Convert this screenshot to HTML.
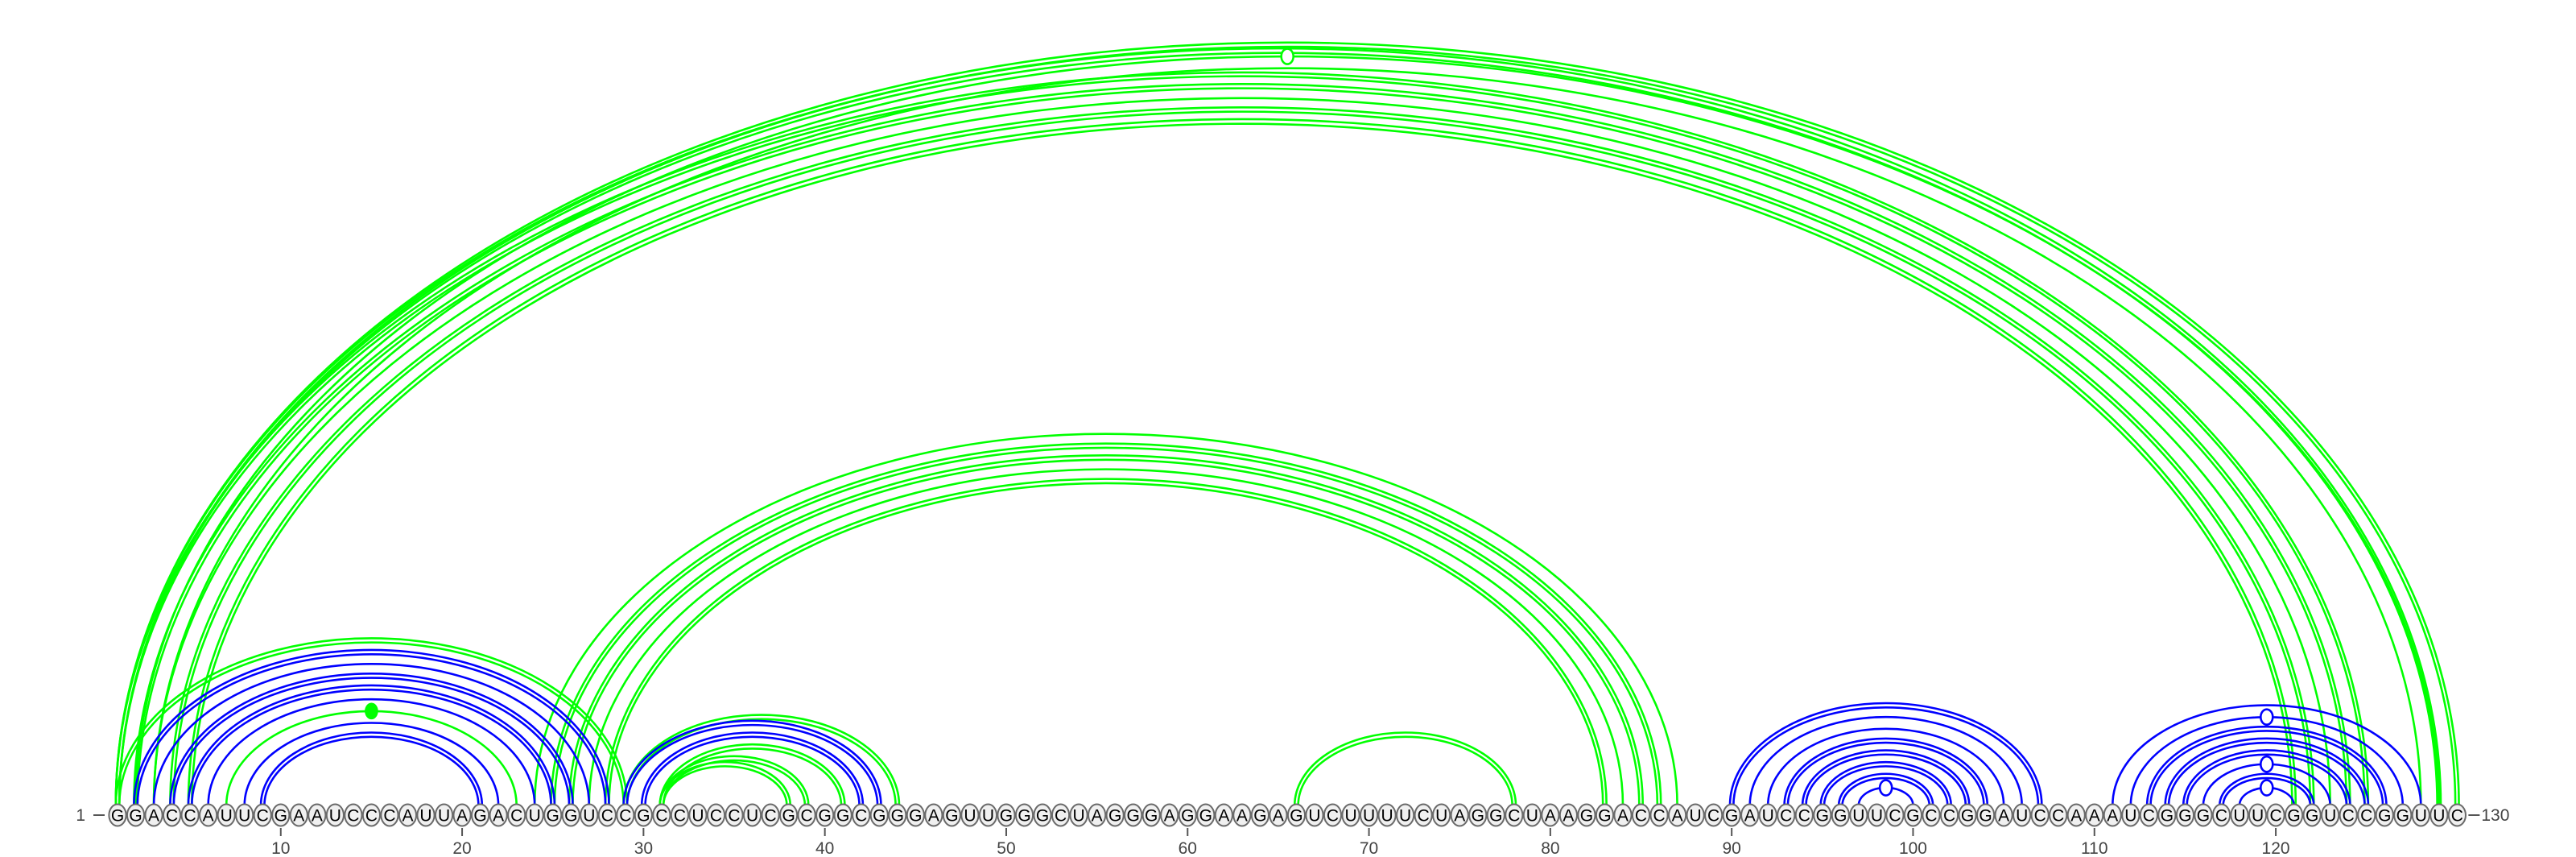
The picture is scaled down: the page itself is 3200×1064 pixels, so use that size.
<!DOCTYPE html>
<html><head><meta charset="utf-8"><style>
html,body{margin:0;padding:0;background:#fff;}
svg{display:block;}
</style></head><body>
<svg id="chart" width="3200" height="1064" viewBox="0 0 3200 1064" xmlns="http://www.w3.org/2000/svg">
<g id="arcs"></g>
<g id="bases"></g>
<g id="axis"></g>
</svg>
<script>
const sequence = "GGACCAUUCGAAUCCCAUUAGACUGGUCCGCCUCCUCGCGGCGGGAGUUGGGCUAGGGAGGAAGAGUCUUUUCUAGGCUAAGGACCAUCGAUCCGGUUCGCCGGAUCCAAAUCGGGCUUCGGUCCGGUUC";
const tickLabels = [10,20,30,40,50,60,70,80,90,100,110,120];
// blue structure pairs
const blueLeft  = [2,3,4,5,6,8,9, 29,30, 90,91,92,93,94,95,96,97, 111,112,113,114,115,116,117,118];
const blueRight = [28,27,26,25,24,22,21, 43,42, 107,106,105,104,103,102,101,100, 128,127,126,125,124,123,122,121];
const blueLines = [2,1,2,2,1,1,2, 2,2, 2,1,1,2,2,2,2,1, 1,1,2,2,2,1,2,1];
const blueMarker= [0,0,0,0,0,0,0, 0,0, 0,0,0,0,0,0,0,2, 0,2,0,0,0,2,0,2];
// green structure pairs
const greenLeft  = [1,7, 29,31,31,31, 24,25,26,27,28, 66, 1,1,2,3,1,2,3,4,5];
const greenRight = [29,23, 44,41,39,38, 87,86,85,84,83, 78, 130,129,129,128,125,124,123,122,121];
const greenLines = [2,1, 2,2,2,2, 1,2,2,1,2, 2, 2,2,1,1,2,2,1,2,2];
const greenMarker= [0,1, 0,0,0,0, 0,0,0,0,0, 0,0,0,2,0,0,0,0,0,0];

const NS="http://www.w3.org/2000/svg";
const X0=146, DX=22.53, BASEY=1012, ARCY=1000, RATIO=0.65;
function xPos(i){return X0+(i-1)*DX;}
function mk(tag,attrs,parent){const e=document.createElementNS(NS,tag);for(const k in attrs)e.setAttribute(k,attrs[k]);parent.appendChild(e);return e;}
const arcsG=document.getElementById('arcs');
function drawArcs(L,R,N,M,color,name){
  for(let k=0;k<L.length;k++){
    const x1=xPos(L[k]), x2=xPos(R[k]);
    const cx=(x1+x2)/2, rx=(x2-x1)/2, ry=rx*RATIO;
    const offs = N[k]===2 ? [-2.2,2.2] : [0];
    offs.forEach(o=>{
      const a=rx+o, b=ry+o*1.2;
      const p=mk('path',{d:`M${cx-a},${ARCY} A${a},${b} 0 0 1 ${cx+a},${ARCY}`,fill:'none',stroke:color,'stroke-width':2.6},arcsG);
      
      
    });
    if(M[k]){
      const top=ARCY-ry;
      const c=mk('ellipse',{cx:cx,cy:top,rx:M[k]===1?7:7.5,ry:M[k]===1?9:9.5,fill:M[k]===1?color:'#fff',stroke:color,'stroke-width':2.6},arcsG);
      
      
    }
  }
}
drawArcs(greenLeft,greenRight,greenLines,greenMarker,'#00ff00','green');
drawArcs(blueLeft,blueRight,blueLines,blueMarker,'#0000ff','blue');

const basesG=document.getElementById('bases');
for(let i=1;i<=sequence.length;i++){
  const g=mk('g',{},basesG);
  
  
  mk('ellipse',{cx:xPos(i),cy:BASEY,rx:10.6,ry:13.5,fill:'#f0f0f0',stroke:'#6a6a6a','stroke-width':2},g);
  const t=mk('text',{x:xPos(i),y:BASEY+7.5,'text-anchor':'middle','font-family':'Liberation Sans, sans-serif','font-size':21,fill:'#000'},g);
  t.textContent=sequence[i-1];
}
const axisG=document.getElementById('axis');
tickLabels.forEach(v=>{
  const l=mk('line',{x1:xPos(v),x2:xPos(v),y1:1028,y2:1038,stroke:'#555','stroke-width':2},axisG);
  
  
  const t=mk('text',{x:xPos(v),y:1060,'text-anchor':'middle','font-family':'Liberation Sans, sans-serif','font-size':21,fill:'#444'},axisG);
  
  
  t.textContent=v;
});
const s=mk('text',{x:106,y:1019,'text-anchor':'end','font-family':'Liberation Sans, sans-serif','font-size':21,fill:'#444'},axisG);


s.textContent='1';
mk('line',{x1:116,x2:130,y1:1012,y2:1012,stroke:'#555','stroke-width':2},axisG);
const nEnd=sequence.length;
mk('line',{x1:xPos(nEnd)+14,x2:xPos(nEnd)+28,y1:1012,y2:1012,stroke:'#555','stroke-width':2},axisG);
const e=mk('text',{x:xPos(nEnd)+30,y:1019,'text-anchor':'start','font-family':'Liberation Sans, sans-serif','font-size':21,fill:'#444'},axisG);


e.textContent=String(nEnd);
</script>
</body></html>
